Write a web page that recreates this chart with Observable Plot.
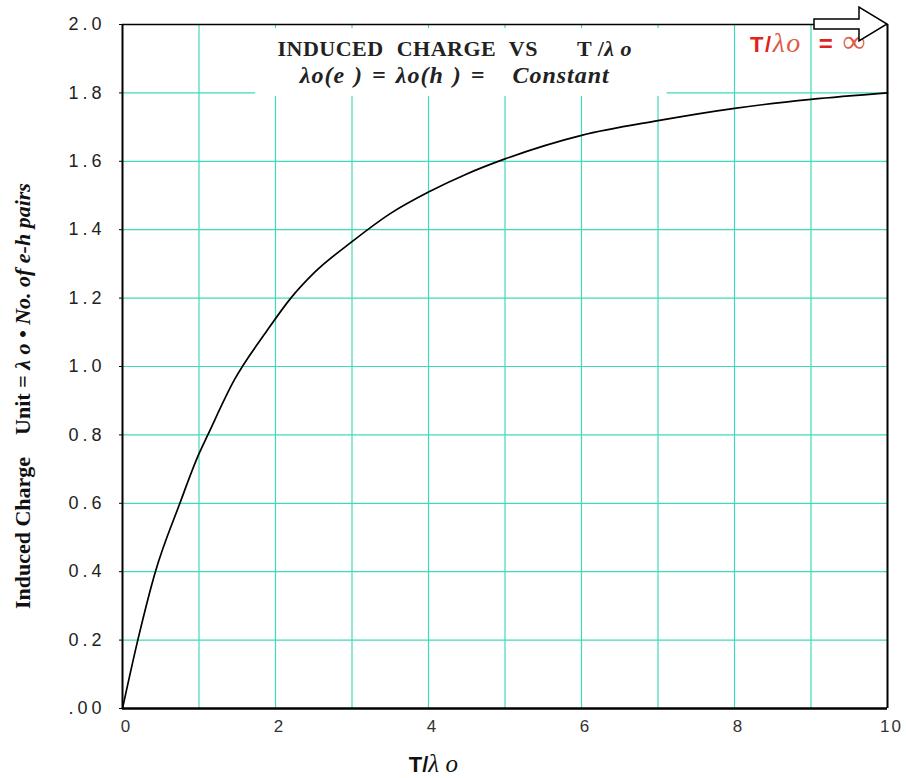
<!DOCTYPE html>
<html><head><meta charset="utf-8">
<script src="https://cdn.jsdelivr.net/npm/d3@7"></script>
<script src="https://cdn.jsdelivr.net/npm/@observablehq/plot@0.6"></script>
<style>
body{margin:0;background:#fff;}
#chart{width:906px;height:778px;}
</style></head><body><div id="chart"></div>
<script>
// Data
const ratio  = [0, 0.2, 0.43, 0.75, 1.0, 1.115, 1.46, 1.89, 2.2, 2.5, 3, 3.5, 4, 4.5, 5, 6, 7, 8, 9, 10];
const charge = [0, 0.2, 0.4, 0.6, 0.745, 0.8, 0.96, 1.105, 1.2, 1.273, 1.365, 1.447, 1.51, 1.563, 1.607, 1.676, 1.719, 1.755, 1.781, 1.80];
const xTicks = [0, 2, 4, 6, 8, 10];
const yTicks = [0, 0.2, 0.4, 0.6, 0.8, 1.0, 1.2, 1.4, 1.6, 1.8, 2.0];
const xGrid = [1, 2, 3, 4, 5, 6, 7, 8, 9];
const yGrid = [0.2, 0.4, 0.6, 0.8, 1.0, 1.2, 1.4, 1.6, 1.8];
const titleBox = [{x1: 1.74, x2: 7.12, y1: 1.789, y2: 1.988}];

const points = ratio.map((r, i) => ({r, q: charge[i]}));
const gridColor = "#3fdab8";

const plot = Plot.plot({
  width: 906, height: 778,
  marginLeft: 122, marginRight: 19, marginTop: 24, marginBottom: 70,
  x: {domain: [0, 10]},
  y: {domain: [0, 2]},
  style: {fontFamily: "'Liberation Sans', Arial, sans-serif", background: "#fff"},
  marks: [
    Plot.ruleX(xGrid, {stroke: gridColor, strokeWidth: 1.2}),
    Plot.ruleY(yGrid, {stroke: gridColor, strokeWidth: 1.2}),
    Plot.rect(titleBox, {x1: "x1", x2: "x2", y1: "y1", y2: "y2", fill: "white"}),
    Plot.line(points, {x: "r", y: "q", stroke: "black", strokeWidth: 1.7, curve: "monotone-x"}),
    Plot.ruleX([0], {stroke: "black", strokeWidth: 2}),
    Plot.ruleX([10], {stroke: "black", strokeWidth: 2}),
    Plot.ruleY([2], {stroke: "black", strokeWidth: 1.5}),
    Plot.ruleY([0], {stroke: "black", strokeWidth: 2.5}),
    Plot.axisX(xTicks, {tickSize: 0, tickPadding: 11, fontSize: 17, dx: 4, fill: "#333", label: null}),
    Plot.axisY(yTicks, {tickSize: 3, tickPadding: 14, fontSize: 18, fill: "#222", label: null,
      tickFormat: d => d === 0 ? ".00" : d.toFixed(1)})
  ]
});
document.getElementById("chart").appendChild(plot);

const sx = plot.scale("x"), sy = plot.scale("y");
const svg = d3.select(plot);
const serif = "'Liberation Serif', 'Times New Roman', serif";
const sans = "'Liberation Sans', Arial, sans-serif";

// Tick label styling
svg.selectAll('g[aria-label="y-axis tick label"], g[aria-label="y-axis tick label"] text')
  .attr("font-size", 18).style("font-size", "18px").style("letter-spacing", "4px");
svg.selectAll('g[aria-label="x-axis tick label"], g[aria-label="x-axis tick label"] text')
  .attr("font-size", 17).style("font-size", "17px").style("letter-spacing", "2px");

// Title
const t1 = svg.append("text").attr("x", sx.apply(4.35)).attr("y", sy.apply(1.906))
  .attr("text-anchor", "middle").attr("font-family", serif).attr("font-weight", "bold")
  .attr("font-size", 22).attr("fill", "#222").style("white-space", "pre")
  .style("letter-spacing", "0.5px");
t1.append("tspan").style("word-spacing", "7px").text("INDUCED CHARGE VS   ");
t1.append("tspan").text("T /");
t1.append("tspan").attr("font-style", "italic").text("λ o");
svg.append("text").attr("x", sx.apply(4.35)).attr("y", sy.apply(1.828))
  .attr("text-anchor", "middle").attr("font-family", serif).attr("font-weight", "bold").attr("font-style", "italic")
  .attr("font-size", 24).attr("fill", "#222").style("white-space", "pre")
  .style("letter-spacing", "1px").style("word-spacing", "2px")
  .text("λo(e ) = λo(h ) =   Constant");

// Red annotation
const red = svg.append("text").attr("x", sx.apply(8.21)).attr("y", sy.apply(1.918))
  .attr("text-anchor", "start").attr("fill", "#e2231a").style("white-space", "pre").style("letter-spacing", "1.5px");
red.append("tspan").attr("font-family", sans).attr("font-weight", "bold").attr("font-size", 22).text("T/");
red.append("tspan").attr("font-family", serif).attr("font-style", "italic").attr("font-size", 28).attr("fill", "#e05a48").text("λo  ");
red.append("tspan").attr("font-family", sans).attr("font-weight", "bold").attr("font-size", 24).text("= ");
red.append("tspan").attr("font-family", serif).attr("font-size", 32).attr("fill", "#e05a48").text("∞");

// Arrow (hollow block arrow at the top-right corner)
const tipX = sx.apply(10), tipY = sy.apply(2);
svg.append("path")
  .attr("d", `M${tipX-73},${tipY-5} L${tipX-28},${tipY-5} L${tipX-28},${tipY-17} L${tipX},${tipY} L${tipX-28},${tipY+17} L${tipX-28},${tipY+5} L${tipX-73},${tipY+5} Z`)
  .attr("fill", "white").attr("stroke", "black").attr("stroke-width", 1.5);

// X label
const xl = svg.append("text").attr("x", sx.apply(4.07)).attr("y", 772)
  .attr("text-anchor", "middle").attr("fill", "#111").style("white-space", "pre");
xl.append("tspan").attr("font-family", sans).attr("font-weight", "bold").attr("font-size", 22).text("T/");
xl.append("tspan").attr("font-family", serif).attr("font-style", "italic").attr("font-size", 25).text("λ o");

// Y label
const yl = svg.append("text").attr("transform", `translate(30,${sy.apply(0.912)}) rotate(-90)`)
  .attr("text-anchor", "middle").attr("font-family", serif).attr("font-weight", "bold")
  .attr("font-size", 22).attr("fill", "#111").style("white-space", "pre");
yl.append("tspan").text("Induced Charge    Unit = ");
yl.append("tspan").attr("font-style", "italic").text("λ o • No. of e-h pairs");
</script></body></html>
